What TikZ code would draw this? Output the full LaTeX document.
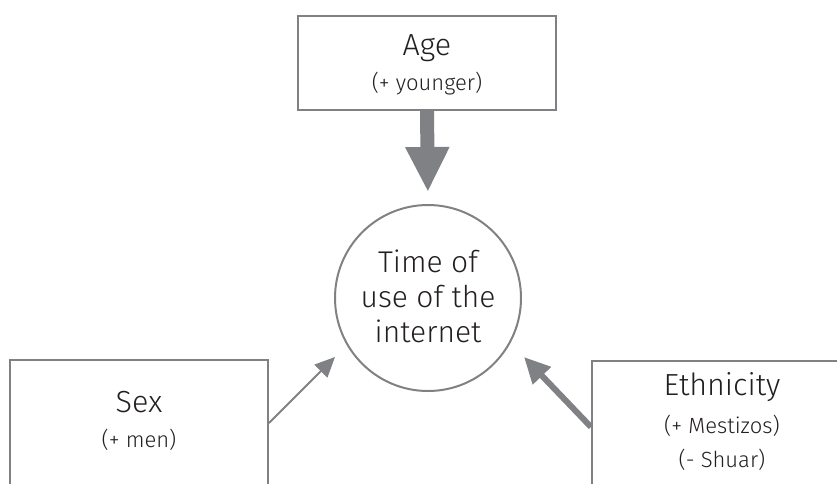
\documentclass[tikz,border=0pt]{standalone}
\usepackage{fontspec}
\setmainfont{Fira Sans}[UprightFont=* Light]
\usetikzlibrary{arrows.meta}
\definecolor{linegrey}{HTML}{808184}
\definecolor{textdark}{HTML}{231F20}
\tikzset{
  box/.style={draw=linegrey, line width=2pt, rectangle, fill=white},
  title/.style={anchor=base, text=textdark, font=\fontsize{30.5}{35}\selectfont, inner sep=0pt},
  ctitle/.style={anchor=base, text=textdark, font=\fontsize{30}{35}\selectfont, inner sep=0pt},
  sub/.style={anchor=base, text=textdark, font=\fontsize{22}{26}\selectfont, inner sep=0pt},
  link/.style={draw=linegrey, color=linegrey}
}
\begin{document}
\begin{tikzpicture}[x=1pt,y=-1pt]
\useasboundingbox (0,0) rectangle (837,483);
\clip (0,0) rectangle (837,483);
% boxes
\node[box, minimum width=258pt, minimum height=94pt] (age) at (427,63) {};
\node[box, minimum width=258pt, minimum height=126pt] (sex) at (139,423) {};
\node[box, minimum width=260pt, minimum height=132pt] (eth) at (722,427) {};
\node[draw=linegrey, line width=2pt, circle, minimum size=186pt, inner sep=0pt] (circ) at (428,298) {};
% texts
\node[title] (agettl) at (427,55) {Age};
\node[sub] (agesub) at (427,90) {(+ younger)};
\node[ctitle] (c1) at (428,272) {Time of};
\node[ctitle] (c2) at (428,307) {use of the};
\node[ctitle] (c3) at (428,342) {internet};
\node[title] (sexttl) at (139,412) {Sex};
\node[sub] (sexsub) at (139,447) {(+ men)};
\node[title] (ethttl) at (722,395) {Ethnicity};
\node[sub] (ethsub1) at (722,433) {(+ Mestizos)};
\node[sub] (ethsub2) at (722,467) {(- Shuar)};
% arrow end points
\coordinate (sextip) at (335,357);
\coordinate (ethtip) at (524,357);
% arrows
\draw[link, line width=14pt, -{Triangle[width=41pt,length=45pt]}, shorten >=12pt] (age.south) -- (circ.north);
\draw[link, line width=2pt, -{Triangle[width=18pt,length=20pt]}] (sex.east) -- (sextip);
\draw[link, line width=6pt, -{Triangle[width=24pt,length=26pt]}] (eth.west) -- (ethtip);
\end{tikzpicture}
\end{document}
